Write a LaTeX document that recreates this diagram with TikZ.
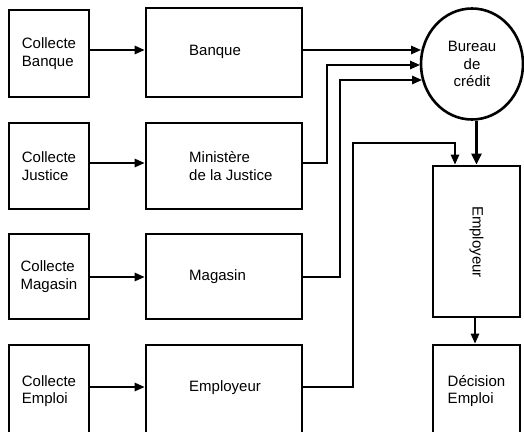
\documentclass[tikz,border=0pt]{standalone}
\usepackage{fontspec}
\setmainfont{Liberation Sans}
\usetikzlibrary{arrows.meta,shapes.geometric}
\begin{document}
\begin{tikzpicture}[x=1pt,y=-1pt,
  every node/.style={font=\fontsize{15}{17.5}\selectfont},
  box/.style={draw,line width=2.9pt,rectangle,inner sep=0pt},
  lbox/.style={box,minimum width=80pt,align=left},
  mbox/.style={box,minimum width=156pt},
  mtext/.style={anchor=west,align=left,inner sep=0pt},
  conn/.style={line width=1.6pt,-{Triangle[length=10pt,width=8.5pt]}},
  thickconn/.style={line width=2.8pt,-{Triangle[length=11pt,width=10pt]}}]
\useasboundingbox (0,0) rectangle (524,431);
% left column
\node[lbox,minimum height=87pt] (cb) at (49,53.5) {Collecte\\Banque};
\node[lbox,minimum height=86pt] (cj) at (49,166) {Collecte\\Justice};
\node[lbox,minimum height=85pt] (cm) at (49,276.5) {Collecte\\Magasin};
\node[lbox,minimum height=92pt] (ce) at (49,391) {Collecte\\Emploi};
% middle column
\node[mbox,minimum height=89pt] (ban) at (224,52.5) {};
\node[mbox,minimum height=86pt] (min) at (224,166) {};
\node[mbox,minimum height=85pt] (mag) at (224,276.5) {};
\node[mbox,minimum height=92pt] (emp) at (224,391) {};
\node[mtext] (tban) at (189,52) {Banque};
\node[mtext] (tmin) at (189,166) {Ministère\\de la Justice};
\node[mtext] (tmag) at (189,277) {Magasin};
\node[mtext] (temp) at (189,388) {Employeur};
% right column
\node[draw,line width=2.6pt,ellipse,minimum width=102pt,minimum height=111pt,inner sep=0pt,align=center] (bc) at (472,64) {Bureau\\de\\crédit};
\node[box,minimum width=87pt,minimum height=151pt] (empl) at (476.5,241.5) {};
\node[rotate=-90] (templ) at (476.5,242) {Employeur};
\node[box,minimum width=87pt,minimum height=92pt,align=left] (dec) at (476.5,391) {Décision\\Emploi};
% connectors left -> middle
\draw[conn] (cb.east |- 0,50) -- (ban.west |- 0,50);
\draw[conn] (cj.east |- 0,163) -- (min.west |- 0,163);
\draw[conn] (cm.east |- 0,277) -- (mag.west |- 0,277);
\draw[conn] (ce.east |- 0,387) -- (emp.west |- 0,387);
% middle -> bureau
\coordinate (b1) at (421,50);
\coordinate (b2) at (420,65);
\coordinate (b3) at (422,80);
\draw[conn] (ban.east |- b1) -- (b1);
\draw[conn] (min.east |- 0,163) -- (327,163) -- (327,65) -- (b2);
\draw[conn] (mag.east |- 0,277) -- (340,277) -- (340,80) -- (b3);
\coordinate (e1) at (455,166);
\draw[conn] (emp.east |- 0,387) -- (353,387) -- (353,143) -- (455,143) -- (empl.north -| e1);
% bureau -> employeur -> decision
\draw[thickconn] (bc.south -| empl.north) -- (empl.north);
\draw[conn] (empl.south -| 475,0) -- (dec.north -| 475,0);
\end{tikzpicture}
\end{document}
